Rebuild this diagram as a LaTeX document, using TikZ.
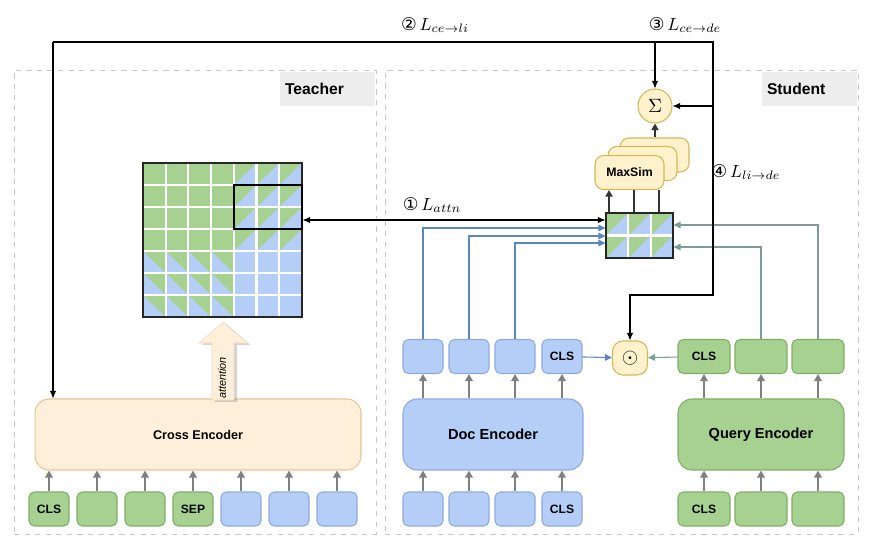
\documentclass[tikz,border=0pt]{standalone}
\usepackage{amsmath}
\usepackage{fontspec}
\setsansfont{Liberation Sans}
\newfontfamily\circfont{DejaVu Sans}
\usetikzlibrary{arrows.meta, positioning, calc, shadows}
\definecolor{gfill}{HTML}{A7D191}
\definecolor{gline}{HTML}{7FAE63}
\definecolor{bfill}{HTML}{B5CEF8}
\definecolor{bline}{HTML}{8FAADC}
\definecolor{ofill}{HTML}{FDEFD9}
\definecolor{oline}{HTML}{E6C594}
\definecolor{yfill}{HTML}{FFF2CC}
\definecolor{yline}{HTML}{D6B656}
\definecolor{bcol}{HTML}{5B86C5}
\definecolor{tcol}{HTML}{7E9C97}
\definecolor{gcol}{HTML}{808080}

\begin{document}
\begin{tikzpicture}[x=0.02cm, y=-0.02cm, >={Latex[length=1.5mm, width=1.3mm]},
  panel/.style={draw=black!22, dashed, line width=0.5pt, inner sep=0},
  tagbox/.style={fill=black!7, minimum width=1.9cm, minimum height=0.68cm, text width=1.7cm, align=left, inner sep=0, anchor=north east, font=\sffamily\bfseries\fontsize{8.9}{10}\selectfont},
  tok/.style={rounded corners=3pt, minimum width=0.8cm, minimum height=0.68cm, inner sep=0, line width=0.6pt, font=\sffamily\bfseries\fontsize{6.9}{8}\selectfont},
  gtok/.style={tok, draw=gline, fill=gfill},
  btok/.style={tok, draw=bline, fill=bfill},
  wide/.style={minimum width=1.04cm},
  enc/.style={rounded corners=8pt, minimum height=1.42cm, inner sep=0, line width=0.6pt, font=\sffamily\bfseries\fontsize{8.3}{10}\selectfont},
  yel/.style={draw=yline, fill=yfill, line width=0.6pt},
  maxsim/.style={yel, rounded corners=5pt, minimum width=1.38cm, minimum height=0.68cm, inner sep=0, font=\sffamily\bfseries\fontsize{7}{8}\selectfont},
  garr/.style={draw=gcol, line width=1pt, -{Triangle[length=1.4mm, width=1.5mm]}},
  barr/.style={draw=bcol, line width=0.6pt, -{Triangle[length=1.4mm, width=1.3mm]}},
  tarr/.style={draw=tcol, line width=0.6pt, -{Triangle[length=1.4mm, width=1.3mm]}},
  loss/.style={font=\fontsize{10}{12}\selectfont},
]
\useasboundingbox (0,0) rectangle (882,551);

% panels
\node[panel, minimum width=7.24cm, minimum height=9.28cm] (tpanel) at (195,302) {};
\node[panel, minimum width=9.46cm, minimum height=9.28cm] (spanel) at (621.5,302) {};
\node[tagbox] (ttag) at ($(tpanel.north east)+(-1,2)$) {Teacher};
\node[tagbox] (stag) at ($(spanel.north east)+(-1,2)$) {Student};

% teacher side
\node[enc, draw=oline, fill=ofill, minimum width=6.52cm, font=\sffamily\bfseries\fontsize{7.2}{9}\selectfont] (cross) at (198,434.5) {Cross Encoder};
\foreach \i/\x/\s/\t in {1/49/gtok/CLS, 2/97/gtok/{}, 3/145/gtok/{}, 4/193/gtok/SEP, 5/241/btok/{}, 6/289/btok/{}, 7/337/btok/{}} {
  \node[\s] (t\i) at (\x,509) {\t};
  \draw[garr] (t\i.north) -- (t\i.north |- cross.south);
}

% attention matrix
\foreach \r in {0,...,6} {
  \foreach \c in {0,...,6} {
    \pgfmathsetmacro\xa{143+\c*22.71}
    \pgfmathsetmacro\xb{\xa+22.71}
    \pgfmathsetmacro\ya{163+\r*22}
    \pgfmathsetmacro\yb{\ya+22}
    \pgfmathtruncatemacro\kind{(\r<4)*2+(\c<4)}
    \ifcase\kind
      \fill[bfill] (\xa,\ya) rectangle (\xb,\yb);
    \or
      \fill[bfill] (\xa,\ya) rectangle (\xb,\yb);
      \fill[gfill] (\xa,\ya) -- (\xb,\ya) -- (\xb,\yb) -- cycle;
    \or
      \fill[bfill] (\xa,\ya) rectangle (\xb,\yb);
      \fill[gfill] (\xa,\ya) -- (\xb,\ya) -- (\xa,\yb) -- cycle;
    \or
      \fill[gfill] (\xa,\ya) rectangle (\xb,\yb);
    \fi
  }
}
\foreach \i in {1,...,6} {
  \draw[white, line width=1.2pt] (143+\i*22.71,163) -- (143+\i*22.71,317);
  \draw[white, line width=1.2pt] (143,163+\i*22) -- (302,163+\i*22);
}
\node[draw=black!85, line width=0.6pt, minimum width=3.18cm, minimum height=3.08cm, inner sep=0] (tmat) at (222.5,240) {};
\draw[black, line width=1.2pt] (233.8,185) rectangle (302,229);

% attention arrow
\path[fill=ofill, draw=oline!60, line width=0.3pt, drop shadow={shadow xshift=1.8pt, shadow yshift=-1pt, opacity=0.35}]
  (212,400) -- (212,343) -- (199,343) -- (223,322) -- (247,343) -- (234,343) -- (234,400) -- cycle;
\node[rotate=90, font=\sffamily\itshape\fontsize{6.2}{7}\selectfont, inner sep=0] (att) at (222,378) {attention};

% student side
\node[enc, draw=bline, fill=bfill, minimum width=3.6cm] (doc) at (493,434.5) {Doc Encoder};
\node[enc, draw=gline, fill=gfill, minimum width=3.32cm] (query) at (761,434.5) {Query Encoder};
\foreach \i/\x/\t in {1/423/{}, 2/469/{}, 3/515/{}, 4/562/CLS} {
  \node[btok] (db\i) at (\x,509) {\t};
  \node[btok] (d\i) at (\x,356.5) {\t};
  \draw[garr] (db\i.north) -- (db\i.north |- doc.south);
  \draw[garr] (d\i.north |- doc.north) -- (d\i.south);
}
\foreach \i/\x/\t in {1/704/CLS, 2/761/{}, 3/818/{}} {
  \node[gtok, wide] (qb\i) at (\x,509) {\t};
  \node[gtok, wide] (q\i) at (\x,356.5) {\t};
  \draw[garr] (qb\i.north) -- (qb\i.north |- query.south);
  \draw[garr] (q\i.north |- query.north) -- (q\i.south);
}
\node[yel, rounded corners=6pt, minimum width=0.7cm, minimum height=0.68cm, inner sep=0, font=\fontsize{13}{14}\selectfont] (dot) at (630,358) {$\odot$};
\draw[barr] (d4) -- (dot);
\draw[tarr] (q1) -- (dot);

% late interaction matrix
\foreach \r in {0,1} {
  \foreach \c in {0,1,2} {
    \pgfmathsetmacro\xa{606+\c*22.33}
    \pgfmathsetmacro\xb{\xa+22.33}
    \pgfmathsetmacro\ya{213+\r*22.5}
    \pgfmathsetmacro\yb{\ya+22.5}
    \fill[bfill] (\xa,\ya) rectangle (\xb,\yb);
    \fill[gfill] (\xa,\ya) -- (\xb,\ya) -- (\xa,\yb) -- cycle;
  }
}
\draw[white, line width=1.2pt] (628.33,213) -- (628.33,258) (650.67,213) -- (650.67,258) (606,235.5) -- (673,235.5);
\node[draw=black!85, line width=0.6pt, minimum width=1.34cm, minimum height=0.9cm, inner sep=0] (smat) at (639.5,235.5) {};

\draw[barr] (d1.north) |- (smat.west |- 0,228);
\draw[barr] (d2.north) |- (smat.west |- 0,236);
\draw[barr] (d3.north) |- (smat.west |- 0,243);
\draw[tarr] (q3.north) |- (smat.east |- 0,225);
\draw[tarr] (q2.north) |- (smat.east |- 0,247);

% maxsim and sum
\node[maxsim] (ms3) at (654.5,155) {};
\node[maxsim] (ms2) at (642.5,163.5) {};
\node[maxsim] (ms1) at (629.5,172.5) {MaxSim};
\draw[black!80, line width=1pt, -{Triangle[length=1.3mm, width=1.4mm]}] (smat.north -| 609,0) -- (ms1.south -| 609,0);
\draw[black!80, line width=1pt] (smat.north -| 634,0) -- (ms1.south -| 634,0);
\draw[black!80, line width=1pt] (smat.north -| 659,0) -- (ms1.south -| 659,0);
\node[yel, circle, minimum size=0.68cm, inner sep=0, font=\fontsize{11}{12}\selectfont] (sum) at (655,106) {$\Sigma$};
\draw[black!80, line width=1pt, -{Triangle[length=1.3mm, width=1.4mm]}] (sum.south |- ms3.north) -- (sum.south);

% loss connectors
\coordinate (tl) at (53,42);
\coordinate (tr) at (713,42);
\coordinate (tb) at (713,295);
\draw[line width=0.6pt, ->] (tl) -- (tl |- cross.north);
\draw[line width=0.6pt, ->] (tl) -- (tr) -- (tb) -| (dot.north);
\draw[line width=0.6pt, ->] (sum.north |- tl) -- (sum.north);
\draw[line width=0.6pt, ->] (tr |- sum.east) -- (sum.east);
\draw[line width=0.6pt, <->] (tmat.east |- 0,220) -- (smat.west |- 0,220);

% loss labels
\node[loss] (l1) at (432,205) {{\circfont ①}\,$L_{attn}$};
\node[loss] (l2) at (435,25) {{\circfont ②}\,$L_{ce\rightarrow li}$};
\node[loss] (l3) at (685,25) {{\circfont ③}\,$L_{ce\rightarrow de}$};
\node[loss] (l4) at (746,172) {{\circfont ④}\,$L_{li\rightarrow de}$};
\end{tikzpicture}
\end{document}
